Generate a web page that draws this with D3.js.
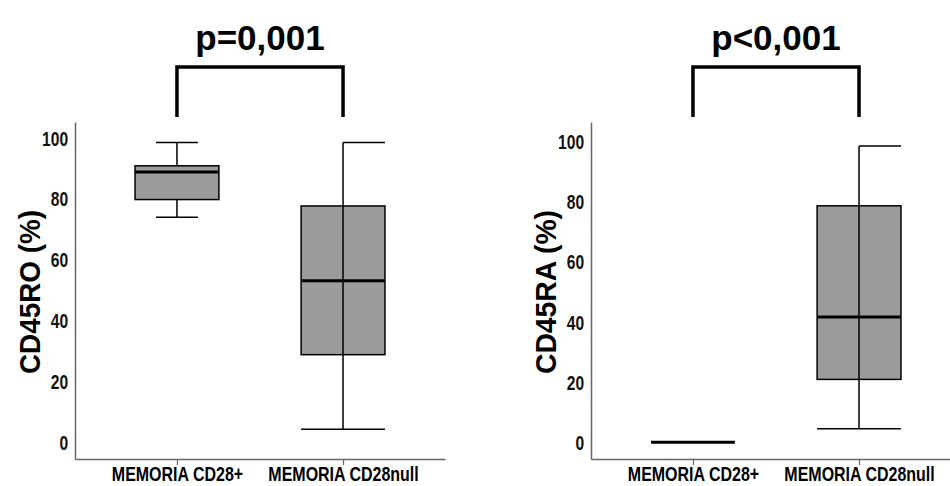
<!DOCTYPE html>
<html>
<head>
<meta charset="utf-8">
<script src="https://cdn.jsdelivr.net/npm/d3@7"></script>
<style>
  body { margin: 0; background: #fff; }
  .narrow { font-family: "Liberation Sans", Arial, sans-serif; font-weight: bold; transform-box: fill-box; }
  .xlab { transform-origin: center; transform: scaleX(0.78); }
  .ylab { transform-origin: right; transform: scaleX(0.8); }
  .wide { font-family: "Liberation Sans", Arial, sans-serif; font-weight: bold; }
</style>
</head>
<body>
<div class="chart"></div>
<script>
// groups on the x axis
const groups = ["MEMORIA CD28+", "MEMORIA CD28null"];
const yTicks = [0, 20, 40, 60, 80, 100];

// CD45RO box stats
const roMin = [74, 4.3];
const roQ1 = [79.8, 28.8];
const roMed = [88.9, 53.1];
const roQ3 = [90.9, 77.7];
const roMax = [98.6, 98.6];

// CD45RA box stats
const raMin = [0, 4.5];
const raQ1 = [0, 20.9];
const raMed = [0, 41.7];
const raQ3 = [0, 78.7];
const raMax = [0, 98.6];

const yTitles = ["CD45RO (%)", "CD45RA (%)"];
const pLabels = ["p=0,001", "p<0,001"];

const W = 950, H = 486;
const svg = d3.select(".chart").append("svg")
    .attr("width", W)
    .attr("height", H);

// panel geometry
const panels = [
    {x0: 75, x1: 445, yDom: [-5.5, 105.3], min: roMin, q1: roQ1, med: roMed, q3: roQ3, max: roMax,
     caps: [[[-0.25, 0.25], [-0.25, 0.25]], [[0, 0.5], [-0.5, 0.5]]]},
    {x0: 591, x1: 961, yDom: [-5.6, 106.6], min: raMin, q1: raQ1, med: raMed, q3: raQ3, max: raMax,
     caps: [[[0, 0], [0, 0]], [[0, 0.5], [-0.5, 0.5]]]}
];

panels.forEach((p, i) => {
    const g = svg.append("g");

    const xScale = d3.scalePoint()
        .domain(groups)
        .range([p.x0, p.x1])
        .padding(0.614);

    const yScale = d3.scaleLinear()
        .domain(p.yDom)
        .range([459, 122]);

    const bw = xScale.step() * 0.505;

    // y axis (no tick marks)
    const yAxis = d3.axisLeft(yScale).tickValues(yTicks).tickSize(0).tickPadding(7);
    const ya = g.append("g")
        .attr("transform", `translate(${p.x0},0)`)
        .call(yAxis);
    ya.select(".domain").attr("stroke", "#666").attr("stroke-width", 1.5);
    ya.selectAll("text").attr("class", "narrow ylab").attr("font-size", 19.5).attr("fill", "#111")
        .attr("dy", "0.36em");

    // x axis
    const xAxis = d3.axisBottom(xScale).tickSizeInner(6).tickSizeOuter(0);
    const xa = g.append("g")
        .attr("transform", "translate(0,459)")
        .call(xAxis);
    xa.select(".domain").attr("stroke", "#666").attr("stroke-width", 1.5);
    xa.selectAll(".tick line").attr("stroke", "#666").attr("stroke-width", 1.2);
    xa.selectAll("text").attr("class", "narrow xlab").attr("font-size", 20.5).attr("fill", "#000")
        .attr("y", 22).attr("dy", 0);

    // boxes
    groups.forEach((grp, j) => {
        const cx = xScale(grp);
        const isFlat = p.q3[j] === p.q1[j];
        if (!isFlat) {
            // whisker
            g.append("line")
                .attr("x1", cx).attr("x2", cx)
                .attr("y1", yScale(p.max[j])).attr("y2", yScale(p.min[j]))
                .attr("stroke", "#000").attr("stroke-width", 1.5);
            g.append("rect")
                .attr("x", cx - bw / 2)
                .attr("y", yScale(p.q3[j]))
                .attr("width", bw)
                .attr("height", yScale(p.q1[j]) - yScale(p.q3[j]))
                .attr("fill", "#9b9b9b")
                .attr("stroke", "#000")
                .attr("stroke-width", 1.5);
            // whisker line shows through the tall boxes
            if (j === 1) {
                g.append("line")
                    .attr("x1", cx).attr("x2", cx)
                    .attr("y1", yScale(p.q3[j])).attr("y2", yScale(p.q1[j]))
                    .attr("stroke", "#000").attr("stroke-width", 1.5);
            }
            // caps
            const c = p.caps[j];
            g.append("line")
                .attr("x1", cx + c[0][0] * bw).attr("x2", cx + c[0][1] * bw)
                .attr("y1", yScale(p.max[j])).attr("y2", yScale(p.max[j]))
                .attr("stroke", "#000").attr("stroke-width", 1.5);
            g.append("line")
                .attr("x1", cx + c[1][0] * bw).attr("x2", cx + c[1][1] * bw)
                .attr("y1", yScale(p.min[j])).attr("y2", yScale(p.min[j]))
                .attr("stroke", "#000").attr("stroke-width", 1.5);
        }
        // median
        g.append("line")
            .attr("x1", cx - bw / 2).attr("x2", cx + bw / 2)
            .attr("y1", yScale(p.med[j])).attr("y2", yScale(p.med[j]))
            .attr("stroke", "#000").attr("stroke-width", 3);
    });

    // y title
    g.append("text")
        .attr("class", "wide")
        .attr("font-size", 30)
        .attr("text-anchor", "middle")
        .attr("textLength", 164)
        .attr("lengthAdjust", "spacingAndGlyphs")
        .attr("transform", `translate(${p.x0 - 35},292) rotate(-90)`)
        .text(yTitles[i]);

    // significance bracket
    const xa1 = xScale(groups[0]), xa2 = xScale(groups[1]);
    g.append("path")
        .attr("d", `M${xa1},117V67H${xa2}V117`)
        .attr("fill", "none")
        .attr("stroke", "#000")
        .attr("stroke-width", 3.5);
    g.append("text")
        .attr("class", "wide")
        .attr("font-size", 35)
        .attr("text-anchor", "middle")
        .attr("x", (xa1 + xa2) / 2)
        .attr("y", 50)
        .text(pLabels[i]);
});
</script>
</body>
</html>
